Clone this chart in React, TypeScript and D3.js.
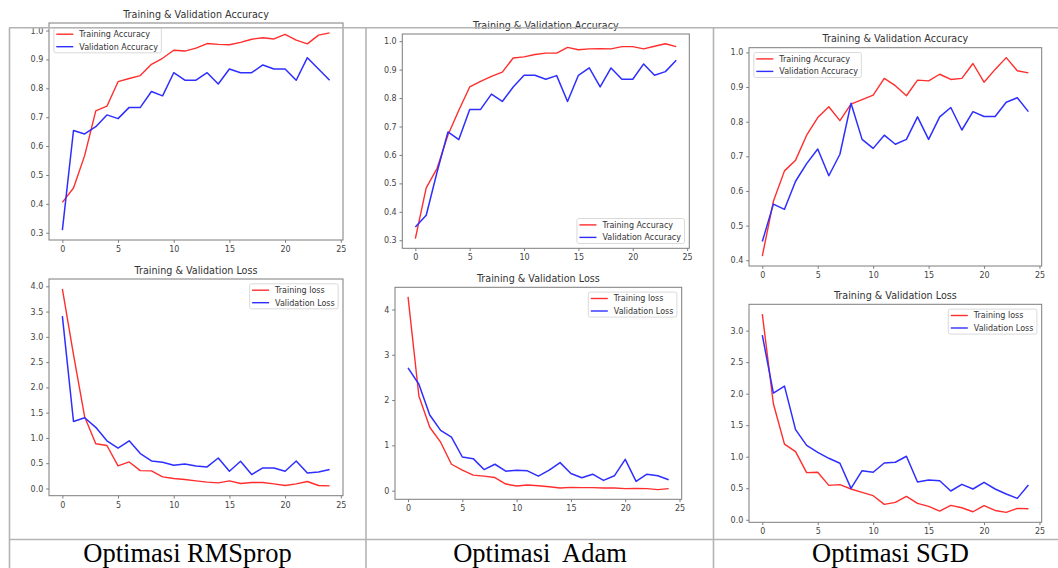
import { useEffect, useRef } from 'react';
import * as d3 from 'd3';

// epochs on the x axis
const epochs = [0, 1, 2, 3, 4, 5, 6, 7, 8, 9, 10, 11, 12, 13, 14, 15, 16, 17, 18, 19, 20, 21, 22, 23, 24];
const xTicks = [0, 5, 10, 15, 20, 25];

// RMSprop
const rmspropTrainAcc = [0.405, 0.455, 0.567, 0.722, 0.738, 0.823, 0.834, 0.844, 0.883, 0.904, 0.932, 0.929, 0.939, 0.955, 0.952, 0.951, 0.959, 0.970, 0.975, 0.971, 0.987, 0.967, 0.954, 0.984, 0.992];
const rmspropValAcc = [0.309, 0.654, 0.642, 0.667, 0.708, 0.695, 0.734, 0.734, 0.789, 0.774, 0.854, 0.828, 0.828, 0.854, 0.815, 0.867, 0.854, 0.854, 0.881, 0.867, 0.867, 0.828, 0.906, 0.867, 0.828];
const rmspropTrainLoss = [3.95, 2.65, 1.42, 0.885, 0.85, 0.446, 0.525, 0.354, 0.348, 0.23, 0.197, 0.177, 0.151, 0.125, 0.11, 0.151, 0.098, 0.118, 0.118, 0.092, 0.059, 0.092, 0.138, 0.059, 0.052];
const rmspropValLoss = [3.41, 1.325, 1.40, 1.21, 0.944, 0.80, 0.944, 0.69, 0.544, 0.518, 0.459, 0.485, 0.446, 0.426, 0.603, 0.341, 0.538, 0.275, 0.407, 0.407, 0.341, 0.544, 0.308, 0.328, 0.374];

// Adam
const adamTrainAcc = [0.306, 0.484, 0.553, 0.67, 0.757, 0.839, 0.859, 0.876, 0.891, 0.941, 0.945, 0.953, 0.958, 0.958, 0.978, 0.970, 0.973, 0.974, 0.973, 0.981, 0.981, 0.973, 0.982, 0.991, 0.981];
const adamValAcc = [0.347, 0.388, 0.540, 0.681, 0.654, 0.760, 0.760, 0.814, 0.788, 0.839, 0.880, 0.880, 0.866, 0.879, 0.788, 0.880, 0.906, 0.839, 0.906, 0.866, 0.866, 0.920, 0.880, 0.893, 0.933];
const adamTrainLoss = [4.277, 2.09, 1.40, 1.07, 0.583, 0.452, 0.342, 0.32, 0.29, 0.146, 0.102, 0.124, 0.109, 0.087, 0.058, 0.073, 0.066, 0.066, 0.058, 0.058, 0.044, 0.051, 0.044, 0.022, 0.044];
const adamValLoss = [2.71, 2.35, 1.67, 1.33, 1.18, 0.743, 0.707, 0.466, 0.583, 0.43, 0.452, 0.437, 0.32, 0.452, 0.619, 0.379, 0.284, 0.364, 0.226, 0.328, 0.692, 0.204, 0.364, 0.328, 0.24];

// SGD
const sgdTrainAcc = [0.412, 0.570, 0.658, 0.689, 0.761, 0.812, 0.843, 0.803, 0.851, 0.864, 0.877, 0.925, 0.904, 0.875, 0.920, 0.918, 0.937, 0.922, 0.925, 0.968, 0.914, 0.951, 0.985, 0.947, 0.941];
const sgdValAcc = [0.454, 0.562, 0.547, 0.628, 0.679, 0.721, 0.644, 0.706, 0.853, 0.749, 0.723, 0.761, 0.735, 0.749, 0.814, 0.749, 0.814, 0.841, 0.776, 0.829, 0.815, 0.815, 0.856, 0.869, 0.829];
const sgdTrainLoss = [3.26, 1.84, 1.20, 1.08, 0.747, 0.753, 0.546, 0.557, 0.488, 0.435, 0.382, 0.244, 0.276, 0.371, 0.260, 0.212, 0.138, 0.228, 0.191, 0.127, 0.223, 0.148, 0.117, 0.180, 0.175];
const sgdValLoss = [2.93, 2.01, 2.12, 1.43, 1.18, 1.07, 0.975, 0.896, 0.498, 0.779, 0.753, 0.901, 0.912, 1.007, 0.599, 0.631, 0.620, 0.456, 0.562, 0.488, 0.594, 0.488, 0.408, 0.339, 0.551];

// tick labels
const acc03Ticks = [0.3, 0.4, 0.5, 0.6, 0.7, 0.8, 0.9, 1.0];
const acc04Ticks = [0.4, 0.5, 0.6, 0.7, 0.8, 0.9, 1.0];
const loss4Ticks = [0.0, 0.5, 1.0, 1.5, 2.0, 2.5, 3.0, 3.5, 4.0];
const lossIntTicks = [0, 1, 2, 3, 4];
const loss3Ticks = [0.0, 0.5, 1.0, 1.5, 2.0, 2.5, 3.0];

const accTitle = 'Training & Validation Accuracy';
const lossTitle = 'Training & Validation Loss';
const accLegend = ['Training Accuracy', 'Validation Accuracy'];
const lossLegend = ['Training loss', 'Validation Loss'];
const columnLabels = ['Optimasi RMSprop', 'Optimasi  Adam', 'Optimasi SGD'];

const W = 1058;
const H = 568;
const FONT = '"DejaVu Sans", Verdana, sans-serif';
const RED = '#ff2e2e';
const BLUE = '#2e2eff';
const SPINE = '#7c7c7c';
const GRID = '#b4b4b4';

// box = [left, top, right, bottom] of each axes frame
const charts = [
    { box: [49, 23, 343, 240], title: accTitle, labels: accLegend, train: rmspropTrainAcc, val: rmspropValAcc, yTicks: acc03Ticks, fmt: '.1f', legend: 'ul' },
    { box: [49, 279, 343, 495.7], title: lossTitle, labels: lossLegend, train: rmspropTrainLoss, val: rmspropValLoss, yTicks: loss4Ticks, fmt: '.1f', legend: 'ur' },
    { box: [402.3, 34, 689.3, 248.3], title: accTitle, labels: accLegend, train: adamTrainAcc, val: adamValAcc, yTicks: acc03Ticks, fmt: '.1f', legend: 'lr' },
    { box: [395, 287.3, 681.7, 499.3], title: lossTitle, labels: lossLegend, train: adamTrainLoss, val: adamValLoss, yTicks: lossIntTicks, fmt: 'd', legend: 'ur' },
    { box: [749, 47.7, 1041.7, 266], title: accTitle, labels: accLegend, train: sgdTrainAcc, val: sgdValAcc, yTicks: acc04Ticks, fmt: '.1f', legend: 'ul' },
    { box: [749, 304.3, 1041.7, 522.3], title: lossTitle, labels: lossLegend, train: sgdTrainLoss, val: sgdValLoss, yTicks: loss3Ticks, fmt: '.1f', legend: 'ur' },
];

export default function App() {
    const ref = useRef<SVGSVGElement | null>(null);

    useEffect(() => {
        document.body.style.margin = '0';
        const svg = d3.select(ref.current);
        svg.selectAll('*').remove();

        svg.append('rect').attr('width', W).attr('height', H).attr('fill', '#fff');

        charts.forEach(c => {
            const [l, t, r, b] = c.box;
            const all = c.train.concat(c.val);
            const lo = d3.min(all) as number;
            const hi = d3.max(all) as number;
            const pad = (hi - lo) * 0.05;

            const x = d3.scaleLinear().domain([-1.2, 25.2]).range([l, r]);
            const y = d3.scaleLinear().domain([lo - pad, hi + pad]).range([b, t]);

            const g = svg.append('g');

            const line = d3.line<number>()
                .x((d, i) => x(epochs[i]))
                .y(d => y(d));

            g.append('path').datum(c.train)
                .attr('d', line).attr('fill', 'none')
                .attr('stroke', RED).attr('stroke-width', 1.4)
                .attr('stroke-linejoin', 'round');
            g.append('path').datum(c.val)
                .attr('d', line).attr('fill', 'none')
                .attr('stroke', BLUE).attr('stroke-width', 1.5)
                .attr('stroke-linejoin', 'round');

            g.append('rect')
                .attr('x', l).attr('y', t)
                .attr('width', r - l).attr('height', b - t)
                .attr('fill', 'none').attr('stroke', SPINE).attr('stroke-width', 1);

            const xAxis = g.append('g')
                .attr('transform', `translate(0,${b})`)
                .call(d3.axisBottom(x).tickValues(xTicks).tickSize(2.8).tickPadding(3.6).tickFormat(d3.format('d')));
            const yAxis = g.append('g')
                .attr('transform', `translate(${l},0)`)
                .call(d3.axisLeft(y).tickValues(c.yTicks).tickSize(2.8).tickPadding(2.9).tickFormat(d3.format(c.fmt)));

            [xAxis, yAxis].forEach(a => {
                a.select('.domain').remove();
                a.selectAll('line').attr('stroke', SPINE);
                a.selectAll('text')
                    .attr('fill', '#444')
                    .style('font-family', FONT)
                    .style('font-size', '8px');
            });

            g.append('text')
                .attr('x', (l + r) / 2).attr('y', t - 5.5)
                .attr('text-anchor', 'middle')
                .attr('fill', '#333')
                .style('font-family', FONT)
                .style('font-size', '9.6px')
                .text(c.title);

            // legend
            const lg = g.append('g');
            const box = lg.append('rect')
                .attr('rx', 2).attr('ry', 2)
                .attr('fill', 'rgba(255,255,255,0.85)')
                .attr('stroke', '#d0d0d0').attr('stroke-width', 0.8);
            const texts = c.labels.map(s => lg.append('text')
                .attr('fill', '#333')
                .style('font-family', FONT)
                .style('font-size', '8px')
                .attr('dy', '0.35em')
                .text(s));
            const tw = d3.max(texts, tx => (tx.node() as SVGTextElement).getComputedTextLength()) as number;
            const bw = 2.5 + 17 + 6 + tw + 3.5;
            const bh = 25;
            const inset = 4.8;
            const bx = c.legend === 'ul' ? l + inset : r - inset - bw;
            const by = c.legend === 'lr' ? b - inset - bh : t + inset;
            box.attr('x', bx).attr('y', by).attr('width', bw).attr('height', bh);
            [RED, BLUE].forEach((col, i) => {
                const ry = by + 6.4 + i * 12.5;
                lg.append('line')
                    .attr('x1', bx + 2.5).attr('x2', bx + 19.5)
                    .attr('y1', ry).attr('y2', ry)
                    .attr('stroke', col).attr('stroke-width', 1.4);
                texts[i].attr('x', bx + 25.5).attr('y', ry);
            });
        });

        // table grid
        const grid = svg.append('g').attr('stroke', GRID).attr('stroke-width', 1.6);
        [27.7, 539.5].forEach(yy => grid.append('line').attr('x1', 9).attr('x2', W).attr('y1', yy).attr('y2', yy));
        [9.5, 366, 713.5].forEach(xx => grid.append('line').attr('x1', xx).attr('x2', xx).attr('y1', 27.7).attr('y2', H));

        const captionX = [187.5, 540, 890.5];
        svg.selectAll('text.caption')
            .data(columnLabels)
            .join('text')
            .attr('class', 'caption')
            .attr('x', (d, i) => captionX[i])
            .attr('y', 561.5)
            .attr('text-anchor', 'middle')
            .attr('fill', '#000')
            .style('font-family', '"Liberation Serif", "Times New Roman", serif')
            .style('font-size', '26.5px')
            .style('white-space', 'pre')
            .text(d => d);

        return () => {
            d3.select(ref.current).selectAll('*').remove();
        };
    }, []);

    return (
        <svg ref={ref} width={W} height={H}
            style={{ position: 'absolute', left: 0, top: 0, display: 'block' }} />
    );
}
